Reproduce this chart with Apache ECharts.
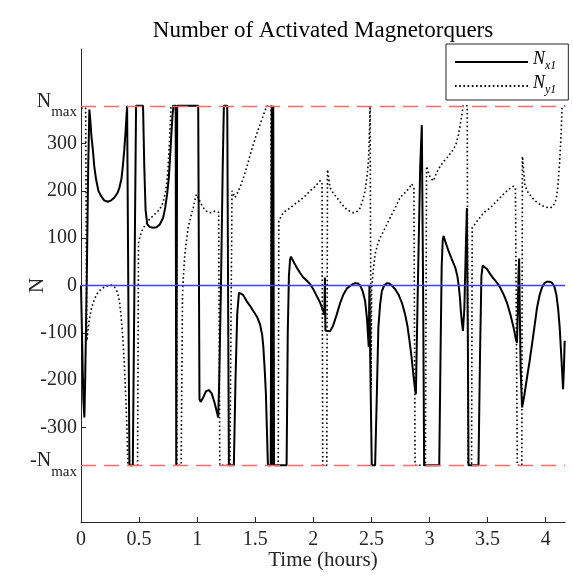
<!DOCTYPE html>
<html><head><meta charset="utf-8">
<script src="https://cdn.jsdelivr.net/npm/echarts@6/dist/echarts.min.js"></script>
<style>html,body{margin:0;padding:0;background:#fff}#c{width:573px;height:585px}</style>
</head><body><div id="c"></div>
<script>
const N_MAX = 380;
const T_END = 4.1667;
const xTicks = [0, 0.5, 1, 1.5, 2, 2.5, 3, 3.5, 4];
const yTicks = [-N_MAX, -300, -200, -100, 0, 100, 200, 300, N_MAX];
const zeroRef = [[0, 0], [T_END, 0]];
const titleText = 'Number of Activated Magnetorquers';
const xName = 'Time (hours)';
const yName = 'N';

const nxT = [0,0.010,0.020,0.029,0.036,0.050,0.062,0.072,0.080,0.090,0.101,0.115,0.130,0.150,0.173,0.200,0.231,0.260,0.288,0.315,0.331,0.348,0.360,0.372,0.383,0.392,0.397,0.405,0.417,0.446,0.474,0.534,0.545,0.556,0.570,0.590,0.620,0.650,0.678,0.707,0.725,0.741,0.755,0.765,0.778,0.788,0.797,0.815,0.820,0.824,0.828,1.009,1.020,1.030,1.050,1.075,1.100,1.125,1.150,1.170,1.181,1.190,1.205,1.220,1.230,1.259,1.273,1.316,1.330,1.345,1.360,1.368,1.395,1.426,1.455,1.483,1.515,1.541,1.560,1.570,1.582,1.592,1.600,1.609,1.633,1.642,1.650,1.655,1.662,1.770,1.780,1.790,1.800,1.808,1.830,1.857,1.885,1.914,1.945,1.972,2.000,2.029,2.058,2.086,2.095,2.100,2.104,2.110,2.144,2.170,2.202,2.230,2.259,2.290,2.316,2.340,2.360,2.385,2.403,2.425,2.446,2.462,2.477,2.483,2.489,2.503,2.532,2.545,2.560,2.575,2.590,2.610,2.633,2.655,2.676,2.705,2.733,2.762,2.790,2.810,2.828,2.845,2.862,2.875,2.883,2.900,2.920,2.934,2.945,2.954,3.084,3.095,3.105,3.114,3.121,3.140,3.164,3.190,3.222,3.240,3.250,3.262,3.270,3.280,3.288,3.300,3.315,3.322,3.330,3.336,3.422,3.435,3.447,3.458,3.466,3.495,3.523,3.550,3.581,3.610,3.638,3.668,3.696,3.725,3.745,3.753,3.760,3.766,3.772,3.778,3.785,3.797,3.815,3.840,3.862,3.883,3.905,3.926,3.948,3.969,3.990,4.012,4.035,4.055,4.075,4.092,4.108,4.121,4.135,4.150,4.158,4.164];
const nxV = [0,-120,-240,-279,-200,20,250,372,350,315,290,250,224,200,189,180,177,180,186,196,207,225,252,285,323,360,380,380,-380,-380,380,380,250,160,130,124,122,123,129,143,165,192,225,263,320,361,380,380,-380,-380,380,380,-240,-246,-238,-224,-221,-228,-248,-268,-279,-200,0,250,380,380,-380,-380,-200,-60,-15,-12,-20,-33,-43,-54,-66,-82,-105,-131,-180,-230,-300,-380,-380,380,-380,380,-380,-380,-100,20,55,61,50,38,27,17,10,3,-8,-22,-36,-54,-62,17,-95,-98,-97,-85,-61,-38,-19,-6,-1,3,5,4,0,-12,-33,-70,-130,0,-140,-380,-380,-250,-89,-40,-12,0,5,4,0,-8,-19,-36,-61,-85,-117,-150,-190,-218,-230,0,250,339,0,-380,-380,-150,40,95,105,90,73,57,38,20,3,-25,-54,-80,-96,-50,100,164,-100,-380,-380,-150,20,42,45,35,24,15,6,-5,-19,-37,-61,-90,-115,-121,-60,20,57,-60,-180,-258,-235,-194,-160,-124,-85,-47,-20,-4,5,8,8,6,-2,-19,-50,-89,-150,-219,-170,-117];

const nyT = [0,0.040,0.050,0.060,0.072,0.090,0.115,0.140,0.172,0.210,0.259,0.290,0.316,0.332,0.345,0.360,0.374,0.386,0.397,0.403,0.487,0.495,0.510,0.532,0.560,0.590,0.640,0.678,0.705,0.725,0.740,0.750,0.760,0.768,0.775,0.822,0.826,0.862,0.874,0.884,0.894,0.908,0.922,0.945,0.966,0.985,0.995,1.010,1.038,1.060,1.081,1.105,1.124,1.150,1.167,1.185,1.195,1.282,1.300,1.325,1.345,1.368,1.395,1.426,1.455,1.483,1.512,1.541,1.570,1.598,1.636,1.641,1.698,1.703,1.720,1.742,1.770,1.800,1.830,1.857,1.885,1.914,1.945,1.972,2.010,2.043,2.060,2.075,2.081,2.116,2.122,2.144,2.170,2.202,2.230,2.259,2.290,2.316,2.340,2.360,2.385,2.403,2.425,2.446,2.462,2.475,2.484,2.489,2.493,2.497,2.502,2.515,2.532,2.555,2.575,2.605,2.633,2.660,2.690,2.720,2.747,2.775,2.805,2.830,2.848,2.866,2.876,2.965,2.975,2.990,3.006,3.034,3.060,3.092,3.120,3.150,3.180,3.207,3.230,3.250,3.265,3.279,3.290,3.325,3.332,3.362,3.368,3.395,3.422,3.445,3.466,3.495,3.523,3.565,3.609,3.645,3.681,3.705,3.724,3.740,3.756,3.795,3.800,3.820,3.840,3.870,3.897,3.925,3.954,3.995,4.040,4.065,4.084,4.096,4.104,4.113,4.121,4.133,4.141,4.145,4.167];
const nyV = [375,375,-117,-95,-71,-48,-29,-17,-8,-2,1,-4,-15,-35,-64,-110,-170,-240,-311,-380,-380,90,105,120,130,140,152,161,175,195,220,250,298,340,380,380,-380,-380,-19,30,66,95,122,145,164,185,193,185,171,162,157,154,154,157,161,155,-380,-380,200,186,195,207,225,249,275,298,320,340,360,379,380,-380,-380,136,145,154,159,164,170,175,180,186,193,200,208,217,222,215,-380,-380,245,207,196,186,177,168,160,157,154,154,158,164,180,200,230,263,330,380,380,-216,-10,30,66,88,101,115,129,143,157,172,186,193,200,208,215,205,-380,-380,252,240,228,221,238,252,262,270,279,288,300,319,340,361,380,380,-380,-380,122,131,140,147,154,159,164,175,186,195,203,207,210,205,-380,-380,273,215,200,190,182,176,171,166,164,168,178,190,207,235,263,319,376,380,380];

const FONT = 'Liberation Serif';
const TXT = '#262626';
const BLUE = '#3f3fff';
const RED = '#ff6a6a';
const zip = (a, b) => a.map((t, i) => [t, b[i]]);

const chart = echarts.init(document.getElementById('c'), null, {renderer: 'canvas'});
chart.setOption({
  animation: false,
  backgroundColor: '#fff',
  textStyle: {fontFamily: FONT},
  grid: {left: 81, right: 8, top: 49, bottom: 63, containLabel: false, outerBoundsMode: 'none'},
  graphic: [{
    type: 'text', x: 323, y: 31,
    style: {text: titleText, font: '23px "Liberation Serif"', fill: '#000', textAlign: 'center', textVerticalAlign: 'middle'}
  }],
  legend: {
    left: 446, top: 44, orient: 'vertical',
    borderColor: '#262626', borderWidth: 1, backgroundColor: '#fff',
    padding: [6, 12, 4, 8], itemWidth: 73, itemHeight: 12, itemGap: 2,
    data: ['Nx1', 'Ny1'],
    itemStyle: {opacity: 0, color: 'transparent', borderWidth: 0},
    formatter: name => name === 'Nx1' ? '{n|N}{s|x1}' : '{n|N}{s|y1}',
    textStyle: {
      fontFamily: FONT, color: '#000', padding: [0, 0, 0, 0],
      rich: {
        n: {fontFamily: FONT, fontStyle: 'italic', fontSize: 18, color: '#000', padding: [0, 0, 4, 0], verticalAlign: 'bottom', lineHeight: 20},
        s: {fontFamily: FONT, fontStyle: 'italic', fontSize: 12, color: '#000', verticalAlign: 'bottom', lineHeight: 14}
      }
    }
  },
  xAxis: {
    type: 'value', min: 0, max: T_END,
    name: xName, nameLocation: 'middle', nameGap: 28, nameMoveOverlap: false,
    nameTextStyle: {fontFamily: FONT, fontSize: 21, color: TXT},
    axisLine: {onZero: false, lineStyle: {color: TXT, width: 1}},
    axisTick: {inside: true, length: 5, customValues: xTicks, lineStyle: {color: TXT}},
    axisLabel: {customValues: xTicks, margin: 8, fontFamily: FONT, fontSize: 20, color: TXT, formatter: v => String(v)},
    splitLine: {show: false}
  },
  yAxis: {
    type: 'value', min: -500, max: 500,
    name: yName, nameLocation: 'middle', nameGap: 33, nameRotate: 90, nameMoveOverlap: false,
    nameTextStyle: {fontFamily: FONT, fontSize: 21, color: TXT},
    axisLine: {show: true, onZero: false, lineStyle: {color: TXT, width: 1}},
    axisTick: {show: true, inside: true, length: 5, customValues: yTicks, lineStyle: {color: TXT}},
    axisLabel: {
      customValues: yTicks, margin: 4, fontFamily: FONT, fontSize: 20, color: TXT,
      formatter: v => v === N_MAX ? '{n|N}{s|max}' : (v === -N_MAX ? '{n|-N}{s|max}' : String(v)),
      rich: {
        n: {fontFamily: FONT, fontSize: 20, color: TXT, verticalAlign: 'bottom', padding: [0, 0, 8, 0]},
        s: {fontFamily: FONT, fontSize: 15, color: TXT, verticalAlign: 'bottom'}
      }
    },
    splitLine: {show: false}
  },
  series: [
    {
      name: 'Nx1', type: 'line', data: zip(nxT, nxV), showSymbol: false, symbol: 'none',
      lineStyle: {color: '#000', width: 2}, itemStyle: {color: '#000'}, z: 2
    },
    {
      name: 'Ny1', type: 'line', data: zip(nyT, nyV), showSymbol: false, symbol: 'none',
      lineStyle: {color: '#000', width: 1.6, type: [1.6, 2.6], cap: 'butt'}, itemStyle: {color: '#000'}, z: 2
    },
    {
      name: 'limits', type: 'line', data: [], z: 3, color: RED, itemStyle: {color: RED},
      markLine: {
        silent: true, symbol: 'none', label: {show: false}, animation: false,
        lineStyle: {color: RED, width: 1.3, type: [15, 8]},
        data: [{yAxis: N_MAX}, {yAxis: -N_MAX}]
      }
    },
    {
      name: 'zero', type: 'line', data: zeroRef, z: 10, zlevel: 0, showSymbol: false, symbol: 'none',
      color: BLUE, itemStyle: {color: BLUE}, silent: true,
      lineStyle: {color: BLUE, width: 1.3, type: 'solid', opacity: 1}
    }
  ]
});
</script></body></html>
